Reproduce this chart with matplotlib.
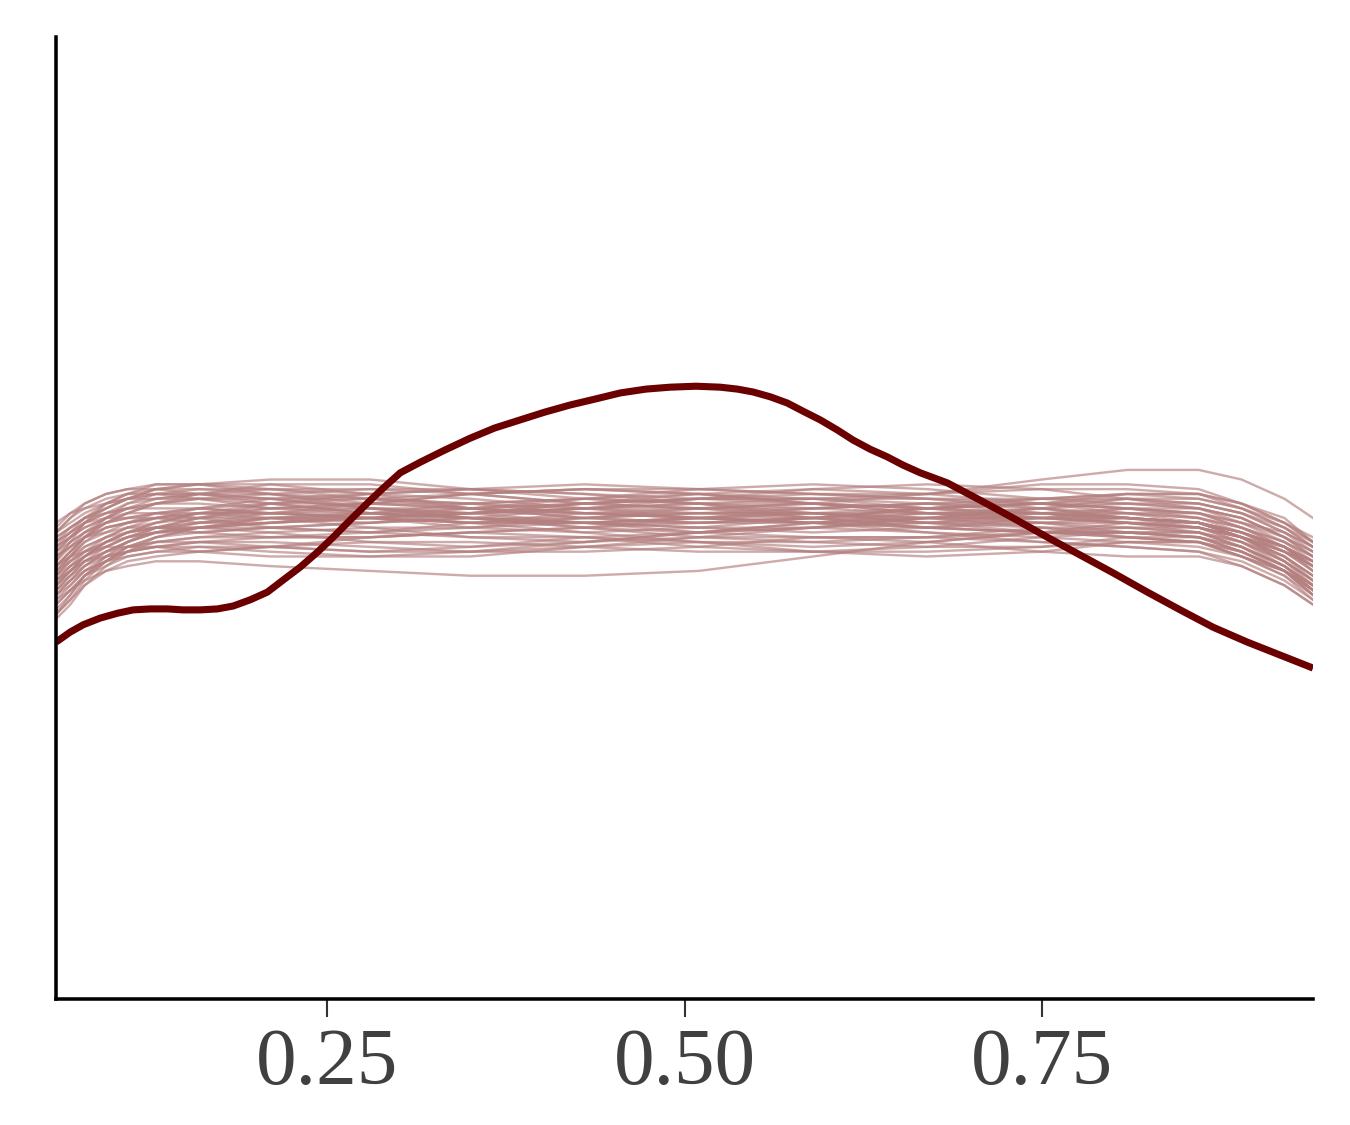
import matplotlib.pyplot as plt

x_rep = [0.06, 0.07, 0.08, 0.095, 0.11, 0.13, 0.16, 0.21, 0.28, 0.35,
         0.43, 0.51, 0.59, 0.67, 0.75, 0.81, 0.86, 0.89, 0.92, 0.94]

# replicated densities (yrep), one row per draw
yrep = [
    [0.92, 0.95, 0.97, 0.99, 1.00, 1.01, 1.02, 1.01, 1.00, 0.99, 1.00, 1.02, 1.03, 1.02, 1.01, 1.00, 0.99, 0.97, 0.93, 0.90],
    [0.86, 0.89, 0.92, 0.95, 0.97, 0.99, 1.01, 1.02, 1.03, 1.02, 1.00, 0.99, 1.00, 1.01, 1.02, 1.01, 0.99, 0.97, 0.94, 0.91],
    [0.97, 0.99, 1.01, 1.03, 1.04, 1.05, 1.05, 1.04, 1.02, 1.00, 0.98, 0.97, 0.98, 1.00, 1.01, 1.00, 0.98, 0.96, 0.92, 0.88],
    [0.80, 0.83, 0.87, 0.91, 0.94, 0.96, 0.98, 0.99, 1.00, 1.01, 1.02, 1.01, 1.00, 0.99, 1.00, 1.00, 0.99, 0.96, 0.91, 0.87],
    [0.90, 0.93, 0.96, 0.99, 1.01, 1.03, 1.04, 1.05, 1.06, 1.05, 1.03, 1.02, 1.02, 1.03, 1.04, 1.04, 1.03, 1.01, 0.97, 0.94],
    [0.88, 0.91, 0.93, 0.95, 0.97, 0.98, 0.98, 0.97, 0.95, 0.94, 0.95, 0.97, 0.99, 1.00, 1.00, 0.99, 0.97, 0.94, 0.89, 0.84],
    [0.95, 0.97, 0.99, 1.01, 1.02, 1.03, 1.03, 1.02, 1.01, 1.02, 1.04, 1.05, 1.04, 1.02, 1.00, 0.99, 0.98, 0.96, 0.93, 0.91],
    [0.84, 0.87, 0.90, 0.93, 0.95, 0.97, 0.97, 0.98, 0.99, 1.00, 0.99, 0.98, 0.97, 0.98, 1.00, 1.02, 1.02, 1.00, 0.96, 0.93],
    [0.93, 0.96, 0.99, 1.02, 1.04, 1.06, 1.07, 1.07, 1.05, 1.02, 1.00, 0.99, 1.00, 1.02, 1.03, 1.02, 1.00, 0.98, 0.95, 0.92],
    [0.87, 0.90, 0.92, 0.95, 0.96, 0.97, 0.98, 0.99, 1.01, 1.03, 1.04, 1.03, 1.01, 0.99, 0.98, 0.97, 0.96, 0.94, 0.90, 0.86],
    [0.99, 1.01, 1.02, 1.03, 1.04, 1.04, 1.04, 1.03, 1.01, 0.99, 0.99, 1.00, 1.01, 1.01, 1.00, 0.99, 0.98, 0.96, 0.93, 0.90],
    [0.82, 0.85, 0.88, 0.91, 0.93, 0.95, 0.96, 0.96, 0.96, 0.97, 0.98, 1.00, 1.02, 1.03, 1.03, 1.02, 1.01, 0.98, 0.94, 0.89],
    [0.89, 0.92, 0.95, 0.98, 0.99, 1.01, 1.02, 1.03, 1.03, 1.03, 1.02, 1.02, 1.03, 1.05, 1.08, 1.10, 1.10, 1.08, 1.04, 1.00],
    [0.85, 0.88, 0.91, 0.94, 0.96, 0.98, 0.99, 1.00, 1.01, 1.00, 0.98, 0.96, 0.95, 0.96, 0.98, 0.98, 0.97, 0.94, 0.90, 0.85],
    [0.94, 0.96, 0.98, 1.00, 1.01, 1.01, 1.00, 0.98, 0.97, 0.98, 1.00, 1.01, 1.01, 1.00, 0.99, 0.99, 0.98, 0.96, 0.94, 0.91],
    [0.83, 0.85, 0.87, 0.89, 0.90, 0.91, 0.91, 0.90, 0.89, 0.88, 0.88, 0.89, 0.92, 0.95, 0.97, 0.97, 0.96, 0.93, 0.89, 0.85],
    [0.96, 0.98, 1.00, 1.02, 1.04, 1.06, 1.07, 1.08, 1.08, 1.06, 1.04, 1.03, 1.02, 1.01, 1.01, 1.01, 1.00, 0.98, 0.95, 0.92],
    [0.88, 0.91, 0.94, 0.96, 0.98, 0.99, 1.00, 1.00, 0.99, 1.00, 1.02, 1.04, 1.05, 1.04, 1.02, 1.00, 0.99, 0.96, 0.92, 0.88],
    [0.79, 0.82, 0.86, 0.90, 0.93, 0.96, 0.98, 1.00, 1.01, 1.00, 0.99, 0.99, 0.99, 0.99, 0.99, 0.98, 0.97, 0.94, 0.90, 0.85],
    [0.92, 0.94, 0.96, 0.98, 0.99, 1.00, 1.00, 1.01, 1.03, 1.05, 1.06, 1.05, 1.03, 1.01, 1.00, 1.01, 1.01, 0.99, 0.97, 0.94],
    [0.90, 0.93, 0.96, 0.98, 0.99, 1.00, 1.01, 1.00, 0.98, 0.96, 0.95, 0.96, 0.98, 1.00, 1.02, 1.03, 1.02, 1.00, 0.96, 0.92],
    [0.86, 0.89, 0.92, 0.94, 0.96, 0.98, 1.00, 1.03, 1.04, 1.03, 1.01, 1.00, 0.99, 0.98, 0.97, 0.96, 0.95, 0.92, 0.88, 0.83],
    [0.98, 1.01, 1.03, 1.05, 1.06, 1.07, 1.07, 1.05, 1.02, 1.00, 1.00, 1.01, 1.01, 1.00, 0.98, 0.96, 0.95, 0.92, 0.89, 0.86],
    [0.89, 0.91, 0.93, 0.95, 0.97, 0.98, 0.99, 1.00, 1.00, 1.01, 1.02, 1.03, 1.03, 1.02, 1.03, 1.05, 1.05, 1.03, 1.00, 0.95],
    [0.84, 0.87, 0.90, 0.93, 0.95, 0.97, 0.99, 1.01, 1.02, 1.02, 1.01, 1.00, 0.99, 0.97, 0.95, 0.94, 0.93, 0.90, 0.86, 0.82],
    [0.93, 0.95, 0.97, 0.99, 1.00, 1.01, 1.01, 1.01, 1.01, 1.00, 0.99, 0.98, 0.98, 0.99, 1.01, 1.02, 1.01, 0.99, 0.96, 0.92],
    [0.87, 0.89, 0.91, 0.92, 0.93, 0.94, 0.95, 0.96, 0.97, 0.99, 1.01, 1.02, 1.01, 0.99, 0.97, 0.96, 0.95, 0.92, 0.89, 0.85],
    [0.95, 0.98, 1.00, 1.02, 1.04, 1.05, 1.05, 1.03, 1.01, 1.01, 1.02, 1.03, 1.04, 1.04, 1.03, 1.01, 1.00, 0.97, 0.94, 0.90],
    [0.81, 0.84, 0.88, 0.91, 0.94, 0.96, 0.97, 0.98, 0.97, 0.96, 0.96, 0.97, 0.99, 1.01, 1.01, 1.00, 0.99, 0.96, 0.92, 0.87],
    [0.91, 0.94, 0.97, 1.00, 1.02, 1.04, 1.05, 1.05, 1.04, 1.02, 1.01, 1.01, 1.02, 1.03, 1.02, 1.00, 0.99, 0.96, 0.93, 0.89],
    [0.88, 0.90, 0.92, 0.94, 0.96, 0.97, 0.98, 0.99, 1.00, 0.99, 0.97, 0.95, 0.94, 0.95, 0.97, 0.99, 0.99, 0.97, 0.94, 0.90],
    [0.94, 0.96, 0.98, 1.00, 1.02, 1.03, 1.04, 1.04, 1.02, 1.01, 1.01, 1.00, 0.99, 1.00, 1.02, 1.04, 1.04, 1.02, 0.99, 0.96],
    [0.85, 0.88, 0.91, 0.93, 0.95, 0.97, 0.98, 1.00, 1.00, 0.99, 0.99, 1.00, 1.01, 1.02, 1.01, 0.99, 0.98, 0.95, 0.90, 0.86],
    [0.90, 0.92, 0.94, 0.96, 0.97, 0.98, 0.98, 0.98, 0.99, 1.01, 1.03, 1.04, 1.03, 1.01, 0.99, 0.97, 0.96, 0.93, 0.89, 0.84],
    [0.96, 0.98, 1.00, 1.01, 1.02, 1.02, 1.02, 1.01, 1.00, 1.01, 1.03, 1.04, 1.04, 1.03, 1.01, 1.00, 0.99, 0.97, 0.93, 0.89],
    [0.83, 0.86, 0.89, 0.92, 0.94, 0.95, 0.96, 0.97, 0.98, 0.98, 0.99, 1.00, 1.00, 1.00, 1.00, 1.00, 0.99, 0.97, 0.94, 0.90],
    [0.90, 0.92, 0.93, 0.94, 0.94, 0.94, 0.93, 0.92, 0.92, 0.93, 0.95, 0.97, 0.98, 0.97, 0.96, 0.95, 0.94, 0.92, 0.88, 0.84],
    [0.97, 1.00, 1.02, 1.04, 1.05, 1.05, 1.04, 1.02, 1.03, 1.05, 1.06, 1.05, 1.03, 1.02, 1.03, 1.04, 1.03, 1.01, 0.98, 0.95],
    [0.86, 0.89, 0.92, 0.95, 0.97, 0.99, 1.01, 1.03, 1.05, 1.06, 1.05, 1.03, 1.00, 0.98, 0.97, 0.97, 0.97, 0.95, 0.91, 0.87],
    [0.92, 0.94, 0.96, 0.97, 0.98, 0.98, 0.97, 0.96, 0.96, 0.97, 0.98, 0.99, 1.00, 1.02, 1.04, 1.05, 1.04, 1.02, 0.98, 0.94],
    [0.80, 0.84, 0.88, 0.92, 0.95, 0.98, 1.00, 1.02, 1.02, 1.01, 0.99, 0.97, 0.96, 0.96, 0.97, 0.98, 0.98, 0.95, 0.91, 0.86],
    [0.95, 0.97, 0.99, 1.00, 1.00, 1.00, 0.99, 0.99, 1.00, 1.02, 1.03, 1.02, 1.00, 0.98, 0.97, 0.97, 0.97, 0.95, 0.92, 0.88],
    [0.89, 0.92, 0.95, 0.97, 0.99, 1.00, 1.01, 1.01, 1.00, 0.98, 0.97, 0.98, 1.00, 1.02, 1.03, 1.03, 1.02, 1.00, 0.96, 0.93],
    [0.87, 0.90, 0.93, 0.96, 0.98, 1.00, 1.02, 1.04, 1.05, 1.04, 1.02, 1.00, 0.99, 0.98, 0.99, 1.00, 0.99, 0.96, 0.91, 0.87],
    [0.91, 0.95, 0.99, 1.03, 1.05, 1.07, 1.07, 1.06, 1.05, 1.06, 1.07, 1.06, 1.05, 1.05, 1.06, 1.06, 1.05, 1.02, 0.98, 0.94],
    [0.82, 0.85, 0.88, 0.90, 0.92, 0.93, 0.94, 0.94, 0.93, 0.93, 0.94, 0.95, 0.95, 0.94, 0.94, 0.95, 0.95, 0.93, 0.89, 0.85],
    [0.94, 0.97, 1.00, 1.03, 1.05, 1.06, 1.06, 1.05, 1.03, 1.02, 1.03, 1.05, 1.06, 1.05, 1.03, 1.02, 1.01, 0.98, 0.94, 0.91],
    [0.86, 0.88, 0.90, 0.92, 0.93, 0.94, 0.95, 0.95, 0.94, 0.93, 0.93, 0.94, 0.96, 0.96, 0.95, 0.94, 0.93, 0.91, 0.87, 0.83],
    [0.88, 0.92, 0.96, 1.00, 1.03, 1.05, 1.06, 1.06, 1.04, 1.03, 1.04, 1.06, 1.07, 1.06, 1.04, 1.03, 1.03, 1.01, 0.97, 0.93],
    [0.80, 0.83, 0.86, 0.89, 0.91, 0.92, 0.93, 0.94, 0.95, 0.95, 0.94, 0.93, 0.93, 0.94, 0.96, 0.97, 0.96, 0.93, 0.89, 0.84],
    [0.97, 1.00, 1.03, 1.05, 1.06, 1.06, 1.05, 1.04, 1.04, 1.05, 1.06, 1.06, 1.05, 1.04, 1.04, 1.05, 1.05, 1.03, 0.99, 0.95],
    [0.85, 0.87, 0.89, 0.91, 0.92, 0.93, 0.93, 0.94, 0.96, 0.97, 0.96, 0.94, 0.93, 0.93, 0.94, 0.96, 0.96, 0.94, 0.90, 0.86],
    [0.90, 0.93, 0.96, 0.99, 1.01, 1.03, 1.05, 1.07, 1.07, 1.05, 1.03, 1.04, 1.06, 1.07, 1.06, 1.04, 1.02, 0.99, 0.95, 0.91],
    [0.84, 0.86, 0.89, 0.91, 0.93, 0.94, 0.94, 0.93, 0.92, 0.92, 0.94, 0.96, 0.96, 0.95, 0.93, 0.92, 0.92, 0.90, 0.86, 0.82],
    [0.93, 0.96, 0.99, 1.01, 1.03, 1.04, 1.05, 1.06, 1.06, 1.06, 1.05, 1.04, 1.04, 1.05, 1.07, 1.07, 1.06, 1.03, 0.99, 0.95],
    [0.87, 0.89, 0.91, 0.93, 0.94, 0.95, 0.95, 0.94, 0.93, 0.94, 0.96, 0.95, 0.93, 0.92, 0.93, 0.95, 0.95, 0.93, 0.89, 0.85],
]

# observed density (y)
x_obs = [0.060, 0.070, 0.079, 0.091, 0.103, 0.114, 0.126, 0.138, 0.149, 0.161,
         0.173, 0.184, 0.196, 0.208, 0.219, 0.231, 0.243, 0.254, 0.266, 0.278,
         0.289, 0.301, 0.315, 0.332, 0.350, 0.367, 0.385, 0.402, 0.420, 0.437,
         0.455, 0.473, 0.490, 0.508, 0.525, 0.537, 0.548, 0.560, 0.572, 0.583,
         0.595, 0.607, 0.618, 0.630, 0.642, 0.653, 0.665, 0.684, 0.707, 0.730,
         0.754, 0.777, 0.800, 0.824, 0.847, 0.870, 0.894, 0.917, 0.940]
y_obs = [0.742, 0.763, 0.778, 0.792, 0.802, 0.809, 0.811, 0.811, 0.809, 0.809,
         0.811, 0.817, 0.830, 0.846, 0.871, 0.898, 0.929, 0.960, 0.996, 1.031,
         1.062, 1.094, 1.116, 1.141, 1.166, 1.187, 1.204, 1.220, 1.235, 1.247,
         1.260, 1.268, 1.272, 1.274, 1.272, 1.268, 1.262, 1.252, 1.239, 1.222,
         1.204, 1.183, 1.162, 1.143, 1.127, 1.110, 1.094, 1.073, 1.037, 1.000,
         0.960, 0.923, 0.886, 0.846, 0.809, 0.773, 0.742, 0.715, 0.688]

x_ticks = [0.25, 0.50, 0.75]
x_ticklabels = ["0.25", "0.50", "0.75"]

plt.rcParams['font.family'] = ['Liberation Serif', 'DejaVu Serif']

fig = plt.figure(figsize=(9, 7.5), dpi=150)
ax = fig.add_axes([0.0415, 0.112, 0.9311, 0.8551])

for row in yrep:
    ax.plot(x_rep, row, color="#b47f7f", alpha=0.65, lw=1.15, solid_joinstyle="round")
ax.plot(x_obs, y_obs, color="#6b0000", lw=3.4, solid_capstyle="butt", solid_joinstyle="round")

ax.set_xlim(0.060, 0.940)
ax.set_ylim(0, 2.0)

ax.spines["top"].set_visible(False)
ax.spines["right"].set_visible(False)
ax.spines["left"].set_linewidth(1.7)
ax.spines["bottom"].set_linewidth(1.7)

ax.set_yticks([])
ax.set_xticks(x_ticks)
ax.set_xticklabels(x_ticklabels)
ax.tick_params(axis="x", length=8.6, width=1.0, color="#333333",
               labelsize=39, labelcolor="#404040", pad=5.5)

fig.savefig("out.png", dpi=150)
